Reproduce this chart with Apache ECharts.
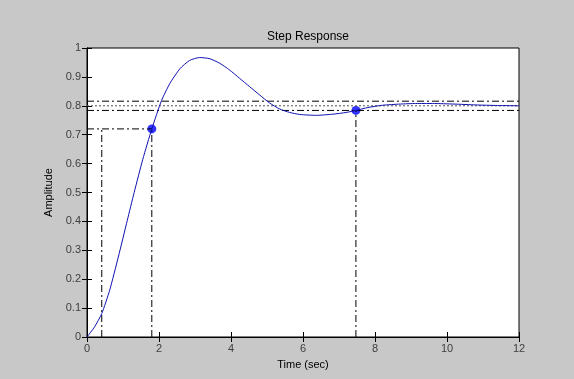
<!DOCTYPE html>
<html>
<head>
<meta charset="utf-8">
<script src="https://cdn.jsdelivr.net/npm/echarts@6/dist/echarts.min.js"></script>
<style>
html,body{margin:0;padding:0;background:#c8c8c8;}
#c{width:574px;height:379px;}
</style>
</head>
<body>
<div id="c"></div>
<script>
// Step response samples
var timeSec = [0, 0.21, 0.41, 0.63, 0.87, 1.12, 1.31, 1.55, 1.8, 2.07, 2.3, 2.58, 2.85, 3.13, 3.41, 3.69, 3.96, 4.24, 4.52, 4.8, 5.07, 5.35, 5.63, 5.91, 6.37, 6.83, 7.2, 7.47, 7.8, 8.21, 8.7, 9.13, 9.6, 10.2, 10.8, 11.4, 12];
var amplitude = [0, 0.035, 0.081, 0.162, 0.277, 0.404, 0.5, 0.615, 0.72, 0.818, 0.877, 0.928, 0.957, 0.967, 0.963, 0.947, 0.924, 0.895, 0.866, 0.837, 0.81, 0.789, 0.777, 0.77, 0.767, 0.771, 0.777, 0.784, 0.794, 0.802, 0.806, 0.808, 0.808, 0.806, 0.803, 0.801, 0.8];
// Characteristic markers
var riseTimes = [0.41, 1.8];
var riseLevel = 0.72;
var settleTime = 7.47;
var settleLevel = 0.784;
var settleBand = [0.784, 0.816];
var finalValue = 0.8;
var xTicks = [0, 2, 4, 6, 8, 10, 12];
var yTicks = [0, 0.1, 0.2, 0.3, 0.4, 0.5, 0.6, 0.7, 0.8, 0.9, 1];

var curve = timeSec.map(function (t, i) { return [t, amplitude[i]]; });
var dashDot = [7, 3, 2, 3];
function refLine(pts, type, color) {
  return { type: 'line', data: pts, symbol: 'none', silent: true, animation: false,
    lineStyle: { color: color || '#000', width: 1, type: type } };
}
var series = [
  refLine([[0, settleBand[1]], [12, settleBand[1]]], dashDot),
  refLine([[0, settleBand[0]], [12, settleBand[0]]], dashDot),
  refLine([[0, finalValue], [12, finalValue]], [2, 2], '#555'),
  refLine([[0, riseLevel], [riseTimes[1], riseLevel]], dashDot),
  refLine([[riseTimes[0], 0], [riseTimes[0], riseLevel]], dashDot),
  refLine([[riseTimes[1], 0], [riseTimes[1], riseLevel]], dashDot),
  refLine([[settleTime, 0], [settleTime, settleLevel]], dashDot),
  { type: 'line', data: curve, smooth: 0.2, symbol: 'none', animation: false,
    lineStyle: { color: '#1010b0', width: 1 } },
  { type: 'scatter', data: [[riseTimes[1], riseLevel], [settleTime, settleLevel]],
    symbolSize: 9, itemStyle: { color: '#0000ff' }, animation: false }
];

var chart = echarts.init(document.getElementById('c'), null, { renderer: 'canvas' });
var tickFont = { color: '#404040', fontSize: 11, fontFamily: 'Liberation Sans' };
chart.setOption({
  backgroundColor: '#c8c8c8',
  animation: false,
  title: { text: 'Step Response', left: 303, top: 26, textAlign: 'center',
    textStyle: { fontSize: 12, fontWeight: 'normal', color: '#000', fontFamily: 'Liberation Sans' } },
  grid: { left: 87, right: 55, top: 48, bottom: 42, show: true, backgroundColor: '#fff', borderColor: '#000', borderWidth: 1 },
  xAxis: [
    { type: 'value', min: 0, max: 12, interval: 2, position: 'bottom',
      name: 'Time (sec)', nameLocation: 'middle', nameGap: 22,
      nameTextStyle: { color: '#000', fontSize: 11, fontFamily: 'Liberation Sans' },
      axisLine: { show: true, lineStyle: { color: '#000' } },
      axisTick: { show: true, inside: true, length: 5, lineStyle: { color: '#000' } },
      axisLabel: Object.assign({ margin: 6, formatter: function (v) { return xTicks.indexOf(v) >= 0 ? String(v) : ''; } }, tickFont),
      splitLine: { show: false } },
    { type: 'value', min: 0, max: 12, interval: 2, position: 'top',
      axisLine: { show: true, lineStyle: { color: '#000' } },
      axisTick: { show: true, inside: true, length: 5, lineStyle: { color: '#000' } },
      axisLabel: { show: false }, splitLine: { show: false } }
  ],
  yAxis: [
    { type: 'value', min: 0, max: 1, interval: 0.1, position: 'left',
      name: 'Amplitude', nameLocation: 'middle', nameGap: 27, nameRotate: 90,
      nameTextStyle: { color: '#000', fontSize: 11, fontFamily: 'Liberation Sans' },
      axisLine: { show: true, lineStyle: { color: '#000' } },
      axisTick: { show: true, inside: true, length: 5, lineStyle: { color: '#000' } },
      axisLabel: Object.assign({ margin: 6, formatter: function (v) {
        var r = Math.round(v * 10) / 10; return yTicks.indexOf(r) >= 0 ? String(r) : ''; } }, tickFont),
      splitLine: { show: false } },
    { type: 'value', min: 0, max: 1, interval: 0.1, position: 'right',
      axisLine: { show: true, lineStyle: { color: '#000' } },
      axisTick: { show: true, inside: true, length: 5, lineStyle: { color: '#000' } },
      axisLabel: { show: false }, splitLine: { show: false } }
  ],
  series: series
});
</script>
</body>
</html>
